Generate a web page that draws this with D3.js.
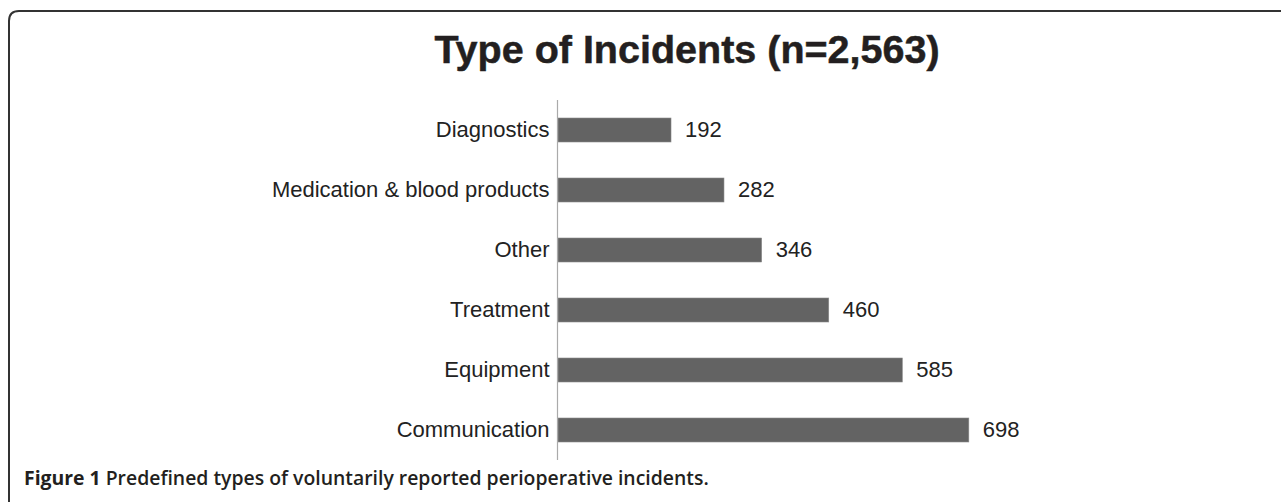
<!DOCTYPE html>
<html lang="en">

<head>
    <meta charset="UTF-8">
    <title>Type of Incidents</title>
    <script src="https://d3js.org/d3.v7.min.js"></script>
    <style>
        body {
            margin: 0;
            background: #fff;
        }

        .cat,
        .val {
            font-family: "Liberation Sans", Arial, sans-serif;
            font-size: 22px;
            fill: #222;
        }

        .title {
            font-family: "Liberation Sans", Arial, sans-serif;
            font-size: 39.5px;
            font-weight: bold;
            fill: #231f20;
            stroke: #231f20;
            stroke-width: 0.5px;
        }

        .caption {
            font-family: "Open Sans", sans-serif;
            font-size: 19.4px;
            font-weight: 600;
            fill: #231f20;
        }
    </style>
</head>

<body>
    <svg id="chart"></svg>

    <script>
        // chart data
        const categories = ['Diagnostics', 'Medication & blood products', 'Other', 'Treatment', 'Equipment', 'Communication'];
        const counts = [192, 282, 346, 460, 585, 698];
        const titleText = 'Type of Incidents (n=2,563)';

        const width = 1281;
        const height = 502;

        const svg = d3.select('#chart')
            .attr('width', width)
            .attr('height', height);

        // frame: rounded top-left corner, open on right and bottom
        svg.append('path')
            .attr('d', `M9,${height} L9,21 Q9,11 19,11 L${width},11`)
            .attr('fill', 'none')
            .attr('stroke', '#333')
            .attr('stroke-width', 2);

        svg.append('text')
            .attr('class', 'title')
            .attr('x', 687)
            .attr('y', 63)
            .attr('text-anchor', 'middle')
            .text(titleText);

        const x = d3.scaleLinear()
            .domain([0, 700])
            .range([558, 970]);

        const y = d3.scaleBand()
            .domain(categories)
            .range([100, 460])
            .paddingInner(0.6)
            .paddingOuter(0.3);

        // bars
        svg.selectAll('.bar')
            .data(categories)
            .enter().append('rect')
            .attr('class', 'bar')
            .attr('x', x(0))
            .attr('y', d => y(d))
            .attr('width', (d, i) => x(counts[i]) - x(0))
            .attr('height', y.bandwidth())
            .attr('fill', '#636363')
            .attr('stroke', '#8a8a8a')
            .attr('stroke-width', 0.6);

        // value labels
        svg.selectAll('.val')
            .data(categories)
            .enter().append('text')
            .attr('class', 'val')
            .attr('x', (d, i) => x(counts[i]) + 14)
            .attr('y', d => y(d) + y.bandwidth() / 2)
            .attr('dy', '0.33em')
            .text((d, i) => counts[i]);

        // category axis
        const axis = d3.axisLeft(y).tickSize(0).tickPadding(8);
        const g = svg.append('g')
            .attr('transform', `translate(${x(0) - 0.5},0)`)
            .call(axis);
        g.select('.domain')
            .attr('d', 'M0,100V460')
            .attr('stroke', '#aaa')
            .attr('stroke-width', 1.2);
        g.selectAll('.tick text')
            .attr('class', 'cat')
            .attr('dy', '0.33em');

        // caption
        const cap = svg.append('text')
            .attr('class', 'caption')
            .attr('x', 24)
            .attr('y', 485);
        cap.append('tspan').attr('font-weight', 'bold').text('Figure 1');
        cap.append('tspan').text(' Predefined types of voluntarily reported perioperative incidents.');
    </script>

</body>

</html>
